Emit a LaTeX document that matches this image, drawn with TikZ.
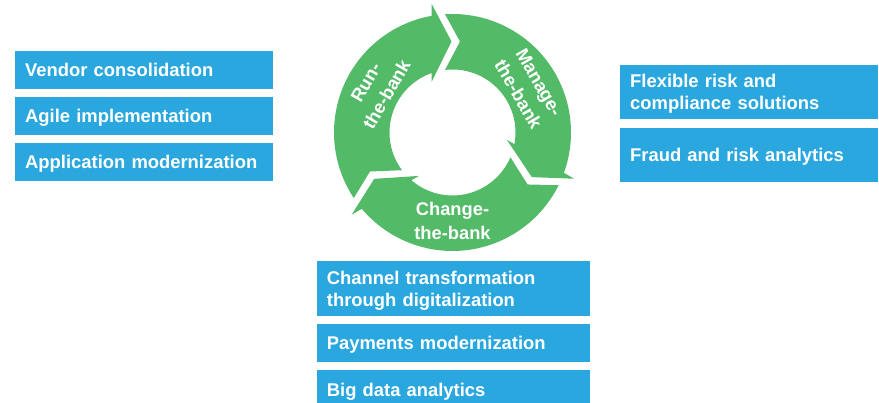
\documentclass[tikz,border=0pt]{standalone}
\usepackage{fontspec}
\setmainfont{Liberation Sans}
\definecolor{ringgreen}{RGB}{83,186,104}
\definecolor{boxblue}{RGB}{41,167,222}
\tikzset{
  bbox/.style={fill=boxblue, draw=none, anchor=north west, inner xsep=10pt, inner ysep=0pt,
    text=white, font=\fontsize{18.4}{22}\selectfont\bfseries, align=left,
    text height=13pt, text depth=0pt},
  twoline/.style={text depth=22pt},
  ringtext/.style={text=white, font=\fontsize{18.3}{24}\selectfont\bfseries, align=center, inner sep=0pt},
  ringfill/.style={fill=ringgreen}
}
\begin{document}
\begin{tikzpicture}[x=1pt,y=1pt]
\useasboundingbox (0,0) rectangle (879,403);
% cycle of three arrows
\begin{scope}[shift={(452.5,270.5)}]
\foreach \a in {0,-120,-240}{
  \fill[ringfill, rotate=\a] (213.6:118.5) arc[start angle=213.6, end angle=100.1, radius=118.5]
    -- (-20.8,128.5) -- (-1,91) -- (-20.8,50.8) -- (109.3:63)
    arc[start angle=109.3, end angle=216.8, radius=63] -- (205.3:91.3) -- cycle;
}
\node[ringtext, rotate=60] (run) at (150:88) {Run-\\the-bank};
\node[ringtext, rotate=-60] (manage) at (30:88) {Manage-\\the-bank};
\node[ringtext] (change) at (270:88) {Change-\\the-bank};
\end{scope}
% left boxes
\node[bbox, text width=238pt, minimum height=37.5pt] (vendor) at (15,352) {Vendor consolidation};
\node[bbox, text width=238pt, minimum height=37.5pt] (agile) at (15,306) {Agile implementation};
\node[bbox, text width=238pt, minimum height=38pt] (appmod) at (15,260.5) {Application modernization};
% right boxes
\node[bbox, twoline, text width=238pt, minimum height=54.3pt] (flex) at (620,338) {Flexible risk and\\compliance solutions};
\node[bbox, text width=238pt, minimum height=54.3pt] (fraud) at (620,275) {Fraud and risk analytics};
% bottom boxes
\node[bbox, twoline, text width=253.3pt, minimum height=54.7pt] (channel) at (316.7,142) {Channel transformation\\through digitalization};
\node[bbox, text width=253.3pt, minimum height=37.7pt] (payments) at (316.7,79) {Payments modernization};
\node[bbox, text width=253.3pt, minimum height=33pt, text height=19pt] (bigdata) at (316.7,33) {Big data analytics};
\end{tikzpicture}
\end{document}
